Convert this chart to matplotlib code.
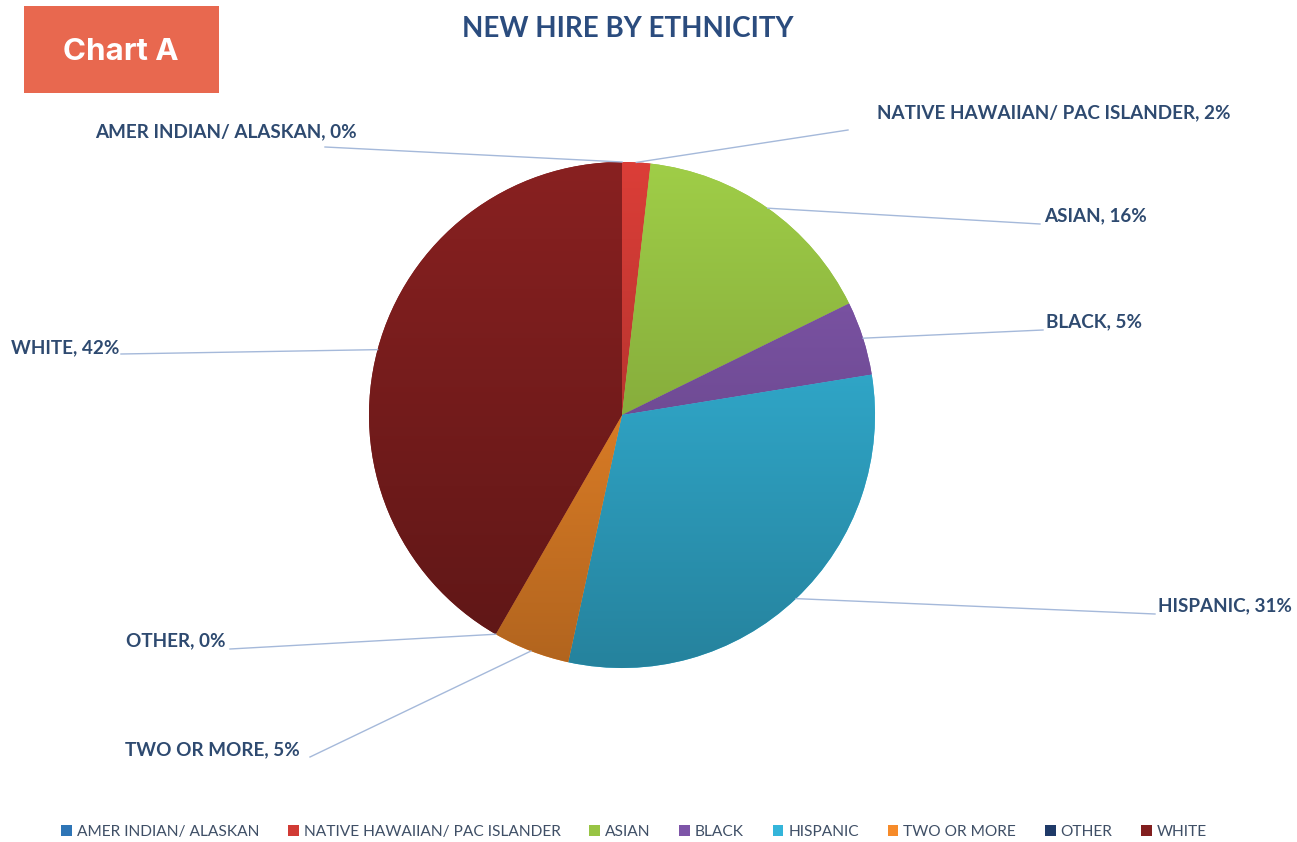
import numpy as np
import matplotlib
matplotlib.use("Agg")
import matplotlib.pyplot as plt
from matplotlib.colors import to_rgb
from matplotlib.patches import Rectangle

# data
categories = ["AMER INDIAN/ ALASKAN", "NATIVE HAWAIIAN/ PAC ISLANDER", "ASIAN", "BLACK",
              "HISPANIC", "TWO OR MORE", "OTHER", "WHITE"]
shares = [0.0, 1.8, 15.9, 4.7, 30.9, 4.9, 0.0, 41.6]
colors = ["#2E75B6", "#D13B35", "#98C444", "#7E55A8", "#34B5DA", "#F68B2A", "#1F3A68", "#821F1F"]

# layout in pixels (figure is 1297 x 842)
W, H = 1297, 842
CX, CY, R = 622, 415, 253
# text anchor, alignment, leader-line end point (same order as categories)
label_pos = [(357, 132, "right", 325, 147),
             (877, 113, "left", 848, 130),
             (1044, 216, "left", 1040, 224),
             (1046, 322, "left", 1043, 330),
             (1158, 606, "left", 1155, 614),
             (300, 750, "right", 310, 757),
             (226, 641, "right", 230, 649),
             (119, 348, "right", 121, 354)]

LABEL_COLOR = "#2E4A70"
LINE_COLOR = "#A5B9DA"
FONT = ["Lato", "DejaVu Sans"]

fig = plt.figure(figsize=(W / 100, H / 100), dpi=100)
ax = fig.add_axes([0, 0, 1, 1])

# y axis is inverted, so data-ccw is screen-clockwise and -90 deg is straight up
wedges, _ = ax.pie(shares, colors=colors, startangle=-90, counterclock=True,
                   center=(CX, CY), radius=R, frame=True,
                   wedgeprops=dict(linewidth=0))

# vertical light-to-dark gradient inside each slice
t = np.linspace(0, 1, 256)[:, None, None]
for w, c, v in zip(wedges, colors, shares):
    if v <= 0:
        continue
    base = np.array(to_rgb(c))
    top = np.clip(base * 1.05, 0, 1)
    bot = base * 0.72
    grad = top * (1 - t) + bot * t
    grad = np.repeat(grad, 2, axis=1)
    im = ax.imshow(grad, extent=(CX - R, CX + R, CY + R, CY - R), origin="upper",
                   interpolation="bilinear", zorder=w.get_zorder() + 0.1)
    im.set_clip_path(w)

# data labels and leader lines
total = sum(shares)
for (name, v, w), (tx, ty, ha, lx, ly) in zip(zip(categories, shares, wedges), label_pos):
    mid = np.deg2rad((w.theta1 + w.theta2) / 2)
    px, py = CX + R * np.cos(mid), CY + R * np.sin(mid)
    ax.plot([px, lx], [py, ly], color=LINE_COLOR, lw=1.0, zorder=5)
    ax.text(tx, ty, f"{name}, {v / total * 100:.0f}%", ha=ha, va="center",
            fontsize=13.6, fontweight="bold", color=LABEL_COLOR, family=FONT, zorder=6)

# title and tag box
ax.text(628, 29, "NEW HIRE BY ETHNICITY", ha="center", va="center", fontsize=20,
        fontweight="bold", color="#2B4C7E", family=FONT)
ax.add_patch(Rectangle((24, 6), 195, 87, facecolor="#E8684F", edgecolor="none", zorder=3))
ax.text(121, 52, "Chart A", ha="center", va="center", fontsize=22.5, fontweight="bold",
        color="white", family=["Inter", "DejaVu Sans"], zorder=4)

ax.set_xlim(0, W)
ax.set_ylim(H, 0)
ax.set_aspect("auto")
ax.axis("off")

leg = ax.legend(wedges, categories, loc="center", bbox_to_anchor=(634 / W, 1 - 832 / H),
                ncol=8, frameon=False, handlelength=0.7, handleheight=0.7,
                handletextpad=0.3, columnspacing=1.85,
                prop={"family": FONT, "size": 11.2})
for txt in leg.get_texts():
    txt.set_color("#3F4F66")

fig.savefig("out.png", dpi=100, facecolor="white")
